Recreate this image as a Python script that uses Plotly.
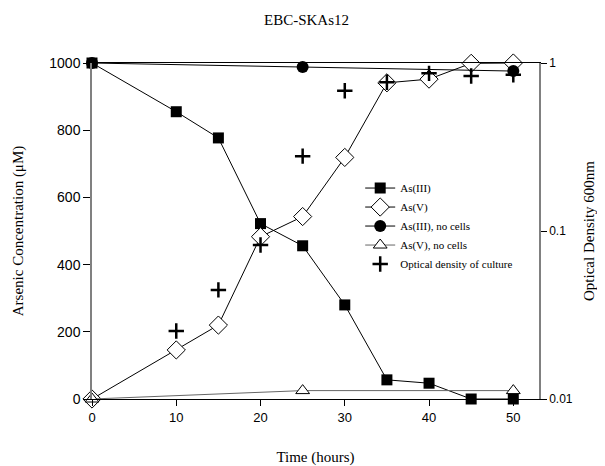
import plotly.graph_objects as go

time = [0, 10, 15, 20, 25, 30, 35, 40, 45, 50]
as3 = [1000, 855, 777, 522, 456, 280, 57, 47, 0, 0]
as5 = [0, 146, 220, 483, 543, 719, 941, 952, 999, 1000]
time_nc = [0, 25, 50]
as3_nc = [1000, 988, 976]
as5_nc = [0, 25, 25]
time_od = [10, 15, 20, 25, 30, 35, 40, 45, 50]
od = [0.0254, 0.0446, 0.0826, 0.279, 0.684, 0.768, 0.868, 0.837, 0.85]

serif = "Liberation Serif"
sans = "Liberation Sans"

fig = go.Figure()
fig.add_trace(go.Scatter(x=time, y=as3, name="As(III)", mode="lines+markers",
                         line=dict(color="black", width=1),
                         marker=dict(symbol="square", size=11, color="black"),
                         cliponaxis=False))
fig.add_trace(go.Scatter(x=time, y=as5, name="As(V)", mode="lines+markers",
                         line=dict(color="black", width=1),
                         marker=dict(symbol="diamond", size=14, color="white",
                                     line=dict(color="black", width=1)),
                         cliponaxis=False))
fig.add_trace(go.Scatter(x=time_nc, y=as3_nc, name="As(III), no cells", mode="lines+markers",
                         line=dict(color="black", width=1),
                         marker=dict(symbol="circle", size=12, color="black"),
                         cliponaxis=False))
fig.add_trace(go.Scatter(x=time_nc, y=as5_nc, name="As(V), no cells", mode="lines+markers",
                         line=dict(color="#666666", width=1),
                         marker=dict(symbol="triangle-up", size=12, color="white",
                                     line=dict(color="black", width=1)),
                         cliponaxis=False))
fig.add_trace(go.Scatter(x=time_od, y=od, name="Optical density of culture", mode="markers",
                         yaxis="y2",
                         marker=dict(symbol="cross-thin", size=11, color="black",
                                     line=dict(color="black", width=2.5)),
                         cliponaxis=False))

fig.update_layout(
    width=597, height=458,
    margin=dict(l=84, r=66, t=55, b=67, autoexpand=False),
    paper_bgcolor="white", plot_bgcolor="white",
    title=dict(text="EBC-SKAs12", x=0.5, xanchor="center", y=1 - 12 / 458, yanchor="middle",
               font=dict(family=serif, size=15, color="black")),
    xaxis=dict(range=[0, 53.05], tickvals=[0, 10, 20, 30, 40, 50], automargin=False,
               showgrid=False, zeroline=False, showline=True, mirror=True,
               linecolor="black", linewidth=1, ticks="outside", ticklen=6,
               tickcolor="black", tickfont=dict(family=sans, size=13, color="black"),
               title=dict(text="Time (hours)", font=dict(family=serif, size=15, color="black"),
                          standoff=27)),
    yaxis=dict(range=[0, 1000], tickvals=[0, 200, 400, 600, 800, 1000], automargin=False,
               showgrid=False, zeroline=False, showline=True, linecolor="#808080",
               linewidth=1.5, ticks="outside", ticklen=7, tickcolor="black",
               tickfont=dict(family=sans, size=14, color="black"),
               title=dict(text="Arsenic Concentration (μM)",
                          font=dict(family=serif, size=15, color="black"), standoff=22)),
    yaxis2=dict(type="log", range=[-2, 0], overlaying="y", side="right", automargin=False,
                tickvals=[0.01, 0.1, 1], ticktext=["0.01", "0.1", "1"],
                showgrid=False, zeroline=False, showline=True, linecolor="#808080",
                linewidth=1.5, ticks="outside", ticklen=6, tickcolor="black",
                tickfont=dict(family=sans, size=12, color="black"),
                title=dict(text="Optical Density 600nm",
                           font=dict(family=serif, size=15, color="black"), standoff=12)),
    legend=dict(x=0.6, y=0.671, xanchor="left", yanchor="top",
                bgcolor="rgba(0,0,0,0)", borderwidth=0,
                font=dict(family=serif, size=11, color="black"),
                tracegroupgap=0, itemwidth=30),
    showlegend=True,
)

fig.write_html("out.html")
